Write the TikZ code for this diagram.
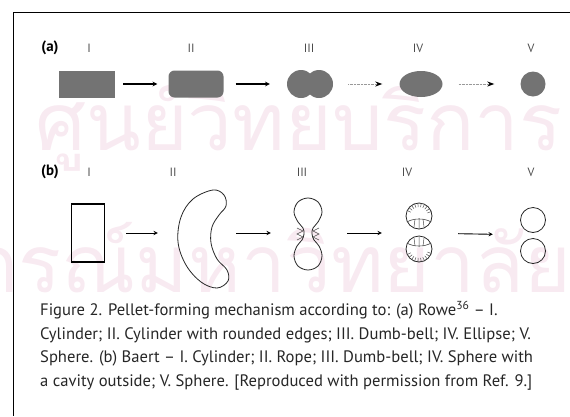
\documentclass[tikz,border=0pt]{standalone}
\usepackage{fontspec}
\setmainfont{PT Sans}
\newfontfamily\thaifont[Script=Thai]{Loma}
\usetikzlibrary{shapes.geometric,calc,arrows.meta}
\definecolor{wmark}{RGB}{248,234,241}
\begin{document}
\begin{tikzpicture}[x=1pt,y=-1pt,>=stealth,
  grain/.style={fill=black!55,draw=none,inner sep=0pt},
  outline/.style={draw=black!85,line width=0.8pt},
  stage/.style={font=\fontsize{12}{12}\selectfont,text=black!70},
  part/.style={font=\bfseries\fontsize{15}{15}\selectfont},
  hold/.style={inner sep=0pt},
  stepto/.style={->,line width=1.1pt},
  faint/.style={-{Stealth[black,length=7pt,width=5pt]},draw=black!40,line width=1pt,dash pattern=on 1pt off 0.4pt}]
\useasboundingbox (0,0) rectangle (570,416);
% faint stamp behind the figure
\begin{scope}
\clip (0,0) rectangle (570,416);
\node[anchor=base east,text=wmark,font=\thaifont\fontsize{80}{80}\selectfont] (wm1) at (566,150) {ศูนย์วิทยบริการ};
\node[anchor=base east,text=wmark,font=\thaifont\fontsize{80}{80}\selectfont] (wm2) at (575,292) {จุฬาลงกรณ์มหาวิทยาลัย};
\end{scope}
% frame
\draw[line width=0.9pt] (570,12) -- (13,12) -- (13,416);

% (a) Rowe
\node[part] (pa) at (50,48) {(a)};
\node[stage] (la1) at (89,48) {I};
\node[stage] (la2) at (191,48) {II};
\node[stage] (la3) at (309,48) {III};
\node[stage] (la4) at (418,48) {IV};
\node[stage] (la5) at (531,48) {V};
\node[grain,rectangle,minimum width=56pt,minimum height=27pt] (sa1) at (87,84) {};
\node[grain,rectangle,rounded corners=6pt,minimum width=55pt,minimum height=27pt] (sa2) at (196,84) {};
\node[hold,minimum width=46pt,minimum height=28pt] (sa3) at (310,84) {};
\fill[black!55] (301,84) circle (14pt) (319,84) circle (14pt);
\node[grain,ellipse,minimum width=43pt,minimum height=26pt] (sa4) at (421,84) {};
\node[grain,circle,minimum size=25pt] (sa5) at (533,84) {};
\draw[stepto,shorten <=8pt,shorten >=11pt] (sa1) -- (sa2);
\draw[stepto,shorten <=12pt,shorten >=17pt] (sa2) -- (sa3);
\draw[faint,shorten <=15pt,shorten >=17pt] (sa3) -- (sa4);
\draw[faint,shorten <=16pt,shorten >=26pt] (sa4) -- (sa5);

% (b) Baert
\node[part] (pb) at (50,172) {(b)};
\node[stage] (lb1) at (89,172) {I};
\node[stage] (lb2) at (173,172) {II};
\node[stage] (lb3) at (302,172) {III};
\node[stage] (lb4) at (407,172) {IV};
\node[stage] (lb5) at (531,172) {V};
\node[draw,line width=1.3pt,minimum width=33pt,minimum height=58pt,inner sep=0pt] (sb1) at (88,233) {};
% rope
\node[hold,minimum width=54pt,minimum height=96pt] (sb2) at (205,233) {};
\draw[outline] plot[smooth cycle,tension=0.6] coordinates {(213,190) (224,195) (226,206) (219,215) (212,227) (211,243) (217,259) (227,270) (228,281) (217,288) (201,282) (186,265) (178,242) (181,217) (193,199)};
% dumb-bell with folds at the neck
\node[hold,minimum width=28pt,minimum height=72pt] (sb3) at (308,233) {};
\draw[outline] plot[smooth cycle,tension=0.6] coordinates {(308,198) (318,202) (322,212) (318,222) (313,228) (312,234) (314,240) (319,246) (322,256) (318,266) (308,270) (298,266) (294,256) (297,246) (302,240) (304,234) (303,228) (298,222) (294,212) (298,202)};
\draw[draw=black!70,line width=0.6pt] (297,228) -- (303,231) -- (297,234) -- (303,237) -- (297,240)
  (319,228) -- (313,231) -- (319,234) -- (313,237) -- (319,240);
% sphere with a cavity outside
\node[hold,minimum width=28pt,minimum height=60pt] (sb4) at (419,233) {};
\draw[outline] (419,216) circle (13pt) (419,249) circle (13pt);
\draw[draw=black!70,line width=0.6pt] (407,222) .. controls (413,218) and (425,218) .. (431,222)
  (407,243) .. controls (413,247) and (425,247) .. (431,243);
\foreach \a in {20,35,...,160} {
  \draw[draw=black!70,line width=0.5pt] ($(419,216)+(\a:13pt)$) -- ($(419,216)+(\a:9pt)$);
  \draw[draw=black!70,line width=0.5pt] ($(419,249)+(-\a:13pt)$) -- ($(419,249)+(-\a:9pt)$);
}
\draw[draw=black!70,line width=0.5pt] (415,219) -- (414,227) (423,219) -- (424,227) (419,218) -- (419,228)
  (415,246) -- (414,238) (423,246) -- (424,238) (419,247) -- (419,237);
% two spheres
\node[hold,minimum width=26pt,minimum height=58pt] (sb5) at (533,235) {};
\draw[outline] (533,220) circle (12.5pt) (533,251) circle (12.5pt);
\draw[stepto,line width=0.9pt,shorten <=21pt,shorten >=20pt] (sb1) -- (sb2);
\draw[stepto,line width=0.9pt,shorten <=4pt,shorten >=23pt] (sb2) -- (sb3);
\draw[stepto,line width=0.9pt,shorten <=25pt,shorten >=23pt] (sb3) -- (sb4);
\draw[stepto,line width=0.9pt,shorten <=25pt,shorten >=27pt] (sb4) -- (sb5);

% caption
\node[anchor=north west,align=left,inner sep=0pt,text=black!85,font=\fontsize{16.6}{23.6}\selectfont] (cap) at (40,301)
{Figure 2. Pellet-forming mechanism according to: (a) Rowe\textsuperscript{36} – I.\\
Cylinder; II. Cylinder with rounded edges; III. Dumb-bell; IV. Ellipse; V.\\
Sphere. (b) Baert – I. Cylinder; II. Rope; III. Dumb-bell; IV. Sphere with\\
a cavity outside; V. Sphere. [Reproduced with permission from Ref. 9.]};
\end{tikzpicture}
\end{document}
